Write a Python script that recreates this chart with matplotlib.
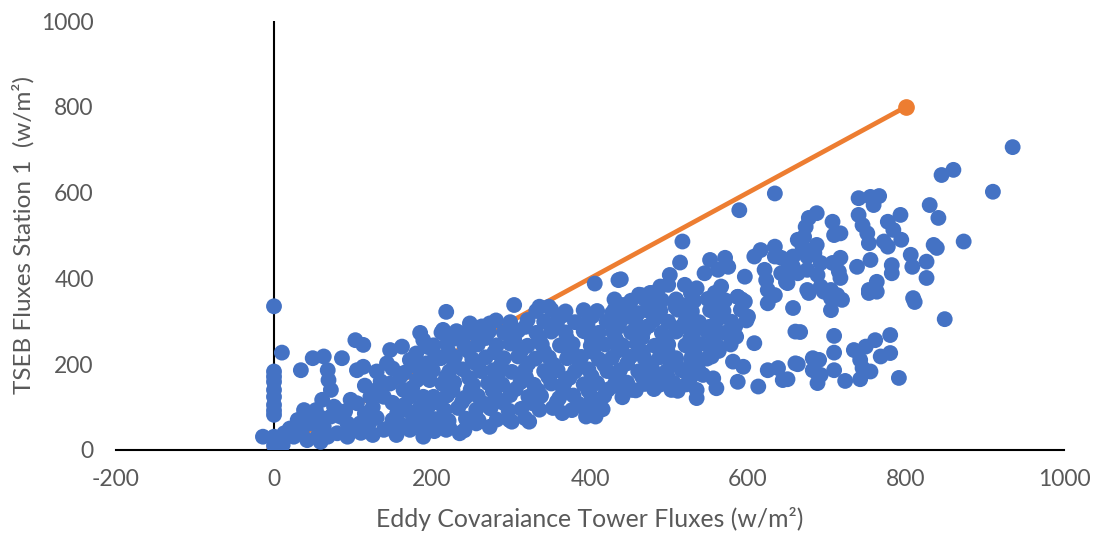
import matplotlib.pyplot as plt

# TSEB modelled flux vs eddy covariance tower flux, station 1 (w/m2)

# points sitting on (or next to) x = 0
zero_column = [(0, 335), (0, 183), (0, 171), (0, 159), (0, 140), (0, 124), (0, 105),
               (0, 92), (0, 82), (0, 31), (0, 10), (-14, 31), (10, 227), (11, 12),
               (13, 39), (25, 31)]

# low flux band, roughly 0-220 on the tower axis
lower_band = [(34, 186), (49, 214), (63, 218), (86, 214), (68, 186), (72, 140), (69, 163),
              (103, 256), (113, 245), (147, 233), (162, 241), (185, 273), (189, 256),
              (218, 322), (105, 186), (113, 194), (130, 183), (143, 202), (172, 210),
              (181, 194), (193, 202), (204, 221), (30, 70), (38, 93), (53, 93), (61, 117),
              (76, 101), (84, 78), (97, 117), (105, 109), (122, 124), (130, 140), (139, 124),
              (93, 62), (101, 47), (109, 62), (139, 47), (147, 54), (172, 47), (189, 31),
              (197, 47), (156, 86), (168, 93), (181, 78), (193, 78), (164, 140), (172, 124),
              (189, 124), (200, 117), (147, 155), (160, 171), (181, 163), (197, 163),
              (68, 31), (80, 39), (93, 31), (42, 23), (55, 31), (72, 78), (80, 93),
              (47, 62), (63, 54), (59, 19), (20, 50), (35, 45), (45, 80), (60, 75),
              (90, 90), (115, 85), (125, 100), (150, 110), (165, 105), (120, 60),
              (130, 75), (150, 70), (175, 65), (185, 100), (160, 60), (110, 40),
              (125, 35), (155, 35), (185, 55), (115, 150), (135, 160), (150, 190),
              (165, 180), (180, 225), (195, 240), (175, 145), (190, 180)]

# dense middle of the cloud
main_cloud = [(304, 338), (336, 334), (348, 334), (214, 280), (248, 295), (273, 295),
              (239, 272), (262, 264), (201, 62), (218, 47), (235, 39), (256, 62), (273, 54),
              (298, 70), (323, 66), (365, 86), (395, 78), (407, 78), (413, 117), (395, 101),
              (203, 44), (222, 52), (241, 46),
              (205, 72), (221, 68), (243, 73), (259, 69), (282, 71), (301, 66), (318, 74),
              (194, 96), (216, 93), (233, 98), (256, 94), (274, 97), (297, 92), (313, 96),
              (336, 94), (353, 98), (377, 93), (394, 97), (416, 95),
              (209, 109), (238, 112), (266, 108), (289, 111), (327, 109), (358, 112),
              (385, 108), (406, 111),
              (202, 124), (219, 127), (242, 122), (258, 126), (281, 123), (299, 128),
              (322, 124), (338, 126), (361, 121), (379, 127), (402, 124), (418, 126),
              (441, 123),
              (226, 139), (249, 141), (277, 138), (306, 142), (334, 139), (366, 141),
              (398, 138), (423, 141), (458, 139), (481, 142), (511, 138),
              (213, 154), (228, 157), (252, 152), (271, 156), (289, 153), (312, 158),
              (329, 152), (351, 155), (368, 157), (392, 153), (409, 156), (431, 152),
              (447, 157), (469, 154), (488, 152), (506, 156), (522, 153),
              (218, 171), (247, 168), (283, 172), (319, 169), (347, 171), (374, 168),
              (402, 172), (433, 169), (466, 171), (499, 168), (528, 171),
              (201, 186), (222, 183), (239, 188), (262, 184), (278, 186), (301, 182),
              (318, 187), (342, 184), (359, 186), (381, 183), (398, 188), (422, 184),
              (438, 186), (461, 183), (479, 188), (497, 184), (519, 186), (538, 183),
              (228, 199), (256, 201), (287, 198), (322, 202), (354, 199), (387, 201),
              (418, 198), (447, 202), (476, 199), (503, 201), (536, 199),
              (211, 214), (229, 217), (251, 212), (268, 216), (291, 214), (309, 218),
              (331, 213), (348, 216), (371, 214), (389, 217), (411, 212), (428, 215),
              (451, 217), (469, 213), (488, 216), (509, 214), (529, 218), (548, 213),
              (221, 229), (246, 231), (279, 228), (313, 232), (342, 229), (377, 231),
              (404, 228), (436, 232), (467, 229), (498, 231), (532, 228), (563, 231),
              (202, 244), (219, 247), (241, 243), (258, 246), (282, 244), (299, 248),
              (321, 243), (339, 246), (362, 244), (378, 247), (401, 243), (419, 246),
              (441, 244), (459, 248), (482, 243), (499, 246), (521, 244), (539, 247),
              (561, 243), (578, 246),
              (227, 259), (268, 261), (304, 258), (336, 262), (371, 259), (402, 261),
              (433, 258), (466, 262), (494, 259), (527, 261), (556, 258),
              (212, 274), (231, 277), (249, 273), (272, 276), (291, 274), (309, 278),
              (332, 273), (351, 276), (369, 274), (392, 277), (411, 273), (429, 276),
              (452, 274), (468, 278), (491, 273), (509, 276), (531, 274), (548, 277),
              (263, 288), (318, 287), (358, 289), (397, 288), (436, 287), (474, 289),
              (516, 288), (551, 287), (584, 289),
              (281, 302), (299, 298), (321, 303), (342, 299), (359, 302), (381, 298),
              (398, 303), (421, 299), (439, 302), (458, 298), (481, 303), (499, 299),
              (521, 302), (538, 298), (561, 303), (579, 299), (598, 302),
              (366, 314), (403, 312), (446, 313), (487, 314), (523, 312), (566, 313),
              (332, 324), (351, 327), (369, 323), (392, 326), (409, 324), (431, 327),
              (449, 323), (472, 326), (489, 324), (511, 327), (529, 323), (552, 326),
              (569, 324), (591, 327),
              (442, 338), (478, 339), (518, 337), (557, 338),
              (431, 351), (452, 348), (469, 352), (491, 349), (509, 351), (532, 348),
              (549, 352), (571, 349), (592, 351)]

# right hand side, 430-660
mid_right = [(465, 361), (478, 366), (528, 366), (587, 357), (596, 346), (625, 342),
             (634, 361), (657, 331), (600, 311), (508, 334), (428, 319), (449, 326),
             (461, 319), (558, 273), (571, 273), (585, 264), (608, 249), (552, 238),
             (554, 218), (528, 206), (522, 183), (581, 206), (594, 194), (543, 175),
             (556, 167), (535, 140), (535, 121), (560, 144), (587, 159), (613, 148),
             (625, 186), (638, 191), (644, 163), (660, 202), (660, 276), (503, 140),
             (453, 140), (436, 148), (474, 163), (491, 163), (508, 206), (516, 186),
             (406, 388), (436, 396)]

# sparse points above the cloud
upper_spread = [(634, 598), (589, 559), (517, 486), (439, 398), (514, 437), (501, 408),
                (462, 362), (476, 366), (489, 381), (499, 385), (520, 385), (535, 377),
                (552, 443), (571, 448), (575, 427), (545, 412), (596, 404), (608, 451),
                (616, 466), (634, 474), (634, 451), (642, 448), (652, 443), (663, 490),
                (621, 420), (623, 396), (625, 373), (642, 412), (648, 392), (562, 420),
                (566, 381), (558, 366), (528, 366), (587, 357)]

# high flux end, 650-940
high_end = [(677, 366), (696, 369), (705, 354), (719, 350), (705, 326), (753, 366),
            (763, 369), (811, 345), (849, 305), (666, 275), (709, 266), (780, 268),
            (761, 256), (749, 241), (734, 233), (709, 227), (780, 226), (768, 218),
            (682, 214), (690, 210), (663, 200), (742, 210), (745, 191), (755, 183),
            (682, 186), (692, 175), (688, 156), (709, 186), (723, 161), (742, 165),
            (791, 168), (650, 165),
            (845, 641), (860, 653), (910, 602), (935, 706), (740, 587), (755, 590),
            (766, 592), (759, 571), (687, 552), (677, 541), (673, 520), (707, 532),
            (717, 505), (709, 501), (740, 548), (745, 524), (751, 505), (753, 482),
            (830, 571), (841, 541), (793, 548), (777, 532), (784, 513), (794, 490),
            (772, 486), (777, 474), (873, 486), (835, 478), (839, 471), (806, 455),
            (808, 427), (826, 439), (826, 401), (782, 431), (782, 412), (755, 443),
            (738, 427), (753, 373), (763, 392), (809, 354), (707, 436), (717, 448),
            (715, 416), (717, 401), (687, 478), (684, 459), (671, 497), (669, 474),
            (657, 451), (657, 427), (663, 412), (675, 451), (675, 420), (688, 408),
            (692, 436), (675, 373), (692, 381), (705, 373), (713, 361), (650, 420),
            (650, 389)]

# 1:1 reference line
one_to_one_x = [0, 800]
one_to_one_y = [0, 800]

points = zero_column + lower_band + main_cloud + mid_right + upper_spread + high_end
eddy = [p[0] for p in points]
tseb = [p[1] for p in points]

plt.rcParams['font.family'] = ['Lato', 'DejaVu Sans']
plt.rcParams['axes.unicode_minus'] = False

fig = plt.figure(figsize=(10.94, 5.41), dpi=100)
ax = fig.add_axes([116 / 1094, 91 / 541, 948 / 1094, 429 / 541])

ax.plot(one_to_one_x, one_to_one_y, color='#ED7D31', lw=3.4, marker='o',
        markersize=11, zorder=2)
ax.scatter(eddy, tseb, s=130, color='#4472C4', edgecolors='none', zorder=3)

ax.set_xlim(-200, 1000)
ax.set_ylim(0, 1000)
ax.set_xticks([-200, 0, 200, 400, 600, 800, 1000])
ax.set_yticks([0, 200, 400, 600, 800, 1000])

for side in ['top', 'right', 'left']:
    ax.spines[side].set_visible(False)
ax.spines['bottom'].set_color('black')
ax.spines['bottom'].set_linewidth(1.5)
ax.axvline(0, color='black', lw=1.5, zorder=1)

ax.tick_params(axis='both', length=0, labelsize=16.5, labelcolor='#595959')
ax.tick_params(axis='x', pad=14)
ax.tick_params(axis='y', pad=16)

ax.set_xlabel('Eddy Covaraiance Tower Fluxes (w/m²)', fontsize=17.8, color='#595959',
              labelpad=12)
ax.set_ylabel('TSEB Fluxes Station 1  (w/m²)', fontsize=17.5, color='#595959',
              labelpad=5)

fig.savefig('out.png', dpi=100)
